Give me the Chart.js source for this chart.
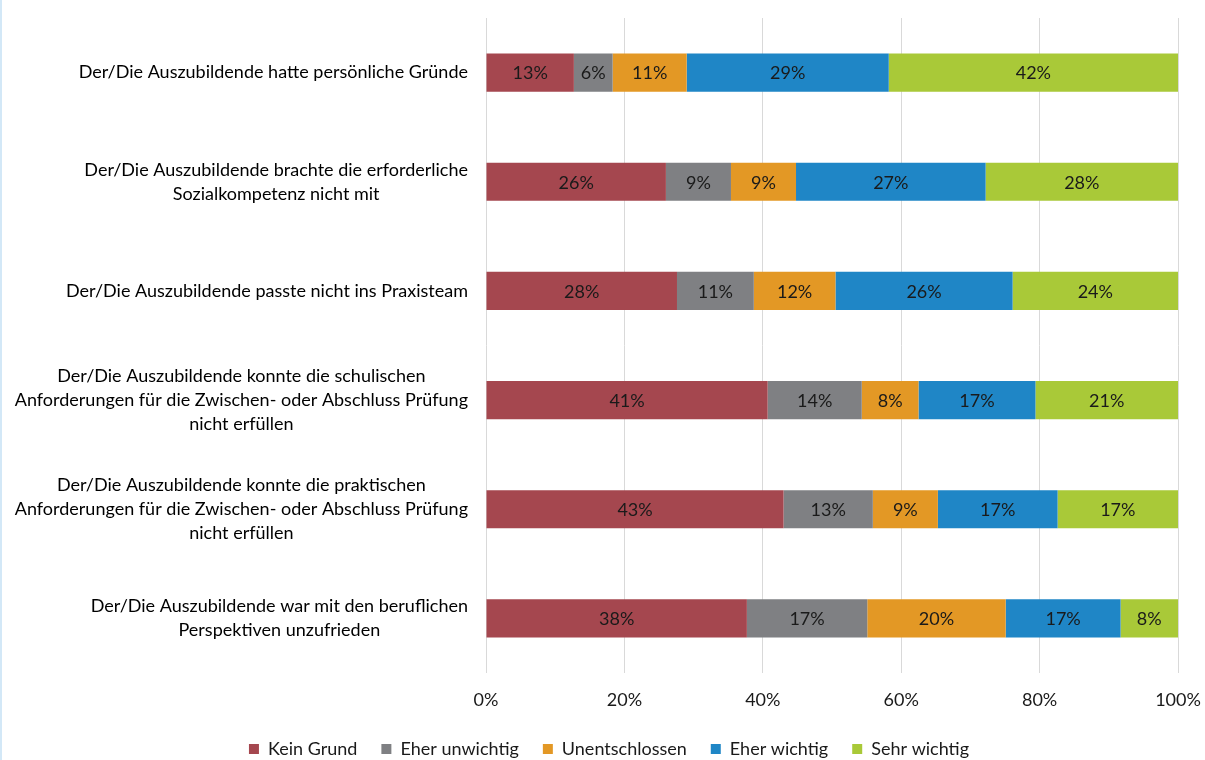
<!DOCTYPE html>
<html lang="de">
<head>
<meta charset="utf-8">
<title>Gründe für Ausbildungsabbrüche</title>
<script src="https://cdn.jsdelivr.net/npm/chart.js@4.4.1/dist/chart.umd.min.js"></script>
<style>
  html, body { margin: 0; padding: 0; background: #fff; }
  #wrap { width: 1205px; height: 760px; position: relative; }
</style>
</head>
<body>
<div id="wrap"><canvas id="abbruchChart" width="1205" height="760"></canvas></div>
<script>
// Kategorien (Zeilen von oben nach unten)
const kategorien = [
  ['Der/Die Auszubildende hatte persönliche Gründe'],
  ['Der/Die Auszubildende brachte die erforderliche', 'Sozialkompetenz nicht mit'],
  ['Der/Die Auszubildende passte nicht ins Praxisteam'],
  ['Der/Die Auszubildende konnte die schulischen', 'Anforderungen für die Zwischen- oder Abschluss Prüfung', 'nicht erfüllen'],
  ['Der/Die Auszubildende konnte die praktischen', 'Anforderungen für die Zwischen- oder Abschluss Prüfung', 'nicht erfüllen'],
  ['Der/Die Auszubildende war mit den beruflichen', 'Perspektiven unzufrieden'],
];

// Anteile in Prozent je Antwortkategorie
const keinGrund      = [12.7, 26.0, 27.6, 40.7, 43.0, 37.7];
const eherUnwichtig  = [5.6, 9.4, 11.1, 13.6, 12.9, 17.4];
const unentschlossen = [10.7, 9.4, 11.8, 8.2, 9.4, 20.0];
const eherWichtig    = [29.2, 27.4, 25.6, 16.9, 17.3, 16.6];
const sehrWichtig    = [41.8, 27.8, 23.9, 20.6, 17.4, 8.3];

const xTicks = [0, 20, 40, 60, 80, 100];

const schrift = 'Lato, "Liberation Sans", sans-serif';

// Beschriftung der Kategorien: Block rechtsbündig, Zeilen zentriert
const kategorieLabels = {
  id: 'kategorieLabels',
  afterDraw(chart) {
    const ctx = chart.ctx;
    const yScale = chart.scales.y;
    ctx.save();
    ctx.font = '18px ' + schrift;
    ctx.fillStyle = '#000';
    ctx.textAlign = 'center';
    ctx.textBaseline = 'middle';
    kategorien.forEach((zeilen, i) => {
      const y = yScale.getPixelForTick(i);
      const breit = Math.max(...zeilen.map(z => ctx.measureText(z).width));
      const cx = chart.chartArea.left - 18 - breit / 2;
      zeilen.forEach((z, j) => {
        ctx.fillText(z, cx, y + (j - (zeilen.length - 1) / 2) * 24);
      });
    });
    ctx.restore();
  }
};

// Prozentwerte mittig in die Segmente schreiben
const wertLabels = {
  id: 'wertLabels',
  afterDatasetsDraw(chart) {
    const ctx = chart.ctx;
    ctx.save();
    ctx.font = '18px ' + schrift;
    ctx.fillStyle = '#1a1a1a';
    ctx.textAlign = 'center';
    ctx.textBaseline = 'middle';
    chart.data.datasets.forEach((ds, di) => {
      const meta = chart.getDatasetMeta(di);
      meta.data.forEach((bar, i) => {
        const x = (bar.x + bar.base) / 2;
        ctx.fillText(Math.round(ds.data[i]) + '%', x, bar.y + 1);
      });
    });
    ctx.restore();
  }
};

const hintergrund = {
  id: 'hintergrund',
  beforeDraw(chart) {
    const ctx = chart.ctx;
    ctx.save();
    ctx.fillStyle = '#fff';
    ctx.fillRect(0, 0, chart.width, chart.height);
    ctx.fillStyle = '#d3e8f7';
    ctx.fillRect(0, 0, 2, chart.height);
    ctx.restore();
  }
};

const ctx = document.getElementById('abbruchChart').getContext('2d');

new Chart(ctx, {
  type: 'bar',
  data: {
    labels: kategorien,
    datasets: [
      { label: 'Kein Grund', data: keinGrund, backgroundColor: '#a5474f' },
      { label: 'Eher unwichtig', data: eherUnwichtig, backgroundColor: '#7f8083' },
      { label: 'Unentschlossen', data: unentschlossen, backgroundColor: '#e39825' },
      { label: 'Eher wichtig', data: eherWichtig, backgroundColor: '#1f86c6' },
      { label: 'Sehr wichtig', data: sehrWichtig, backgroundColor: '#a9c938' },
    ],
  },
  options: {
    indexAxis: 'y',
    responsive: false,
    animation: false,
    barPercentage: 0.35,
    categoryPercentage: 1,
    layout: { padding: { left: 40, right: 27, top: 18, bottom: -8 } },
    scales: {
      x: {
        stacked: true,
        min: 0,
        max: 100,
        afterBuildTicks: (scale) => { scale.ticks = xTicks.map(v => ({ value: v })); },
        afterFit: (scale) => {
          scale.height = 43;
          scale.paddingLeft = 0;
          scale.paddingRight = 0;
        },
        grid: { color: '#d9d9d9', lineWidth: 1, drawTicks: false },
        border: { display: false },
        ticks: {
          padding: 16,
          color: '#1a1a1a',
          font: { family: schrift, size: 18 },
          callback: (v) => v + '%',
        },
      },
      y: {
        stacked: true,
        grid: { display: false },
        border: { display: false },
        ticks: { display: false },
        afterFit: (scale) => { scale.width = 446; },
      },
    },
    plugins: {
      legend: {
        position: 'bottom',
        labels: {
          boxWidth: 10,
          boxHeight: 10,
          padding: 24,
          color: '#1a1a1a',
          font: { family: schrift, size: 18 },
        },
      },
      tooltip: { enabled: false },
    },
  },
  plugins: [hintergrund, kategorieLabels, wertLabels],
});
</script>
</body>
</html>
